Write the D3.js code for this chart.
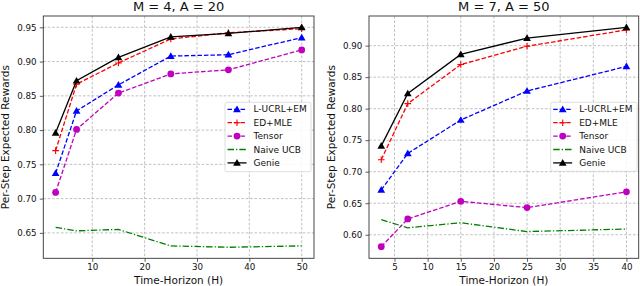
<!DOCTYPE html>
<html>
<head>
<meta charset="utf-8">
<script src="https://cdn.jsdelivr.net/npm/d3@7"></script>
<style>
  html, body { margin: 0; padding: 0; background: #fff; }
  svg { display: block; font-family: "DejaVu Sans", sans-serif; }
</style>
</head>
<body>
<svg id="chart" width="640" height="286"></svg>
<script>
// ---------------- data ----------------
const seriesNames = ["L-UCRL+EM", "ED+MLE", "Tensor", "Naive UCB", "Genie"];

// Left panel: M = 4, A = 20
const leftTitle = "M = 4, A = 20";
const leftX = [3, 7, 15, 25, 36, 50];
const leftLUCRL = [0.737, 0.828, 0.866, 0.908, 0.910, 0.935];
const leftEDMLE = [0.770, 0.867, 0.898, 0.933, 0.942, 0.948];
const leftTensor = [0.709, 0.801, 0.854, 0.882, 0.888, 0.917];
const leftNaive = [0.658, 0.653, 0.655, 0.631, 0.629, 0.631];
const leftGenie = [0.796, 0.872, 0.906, 0.936, 0.941, 0.950];
const leftXTicks = [10, 20, 30, 40, 50];
const leftYTicks = [0.65, 0.70, 0.75, 0.80, 0.85, 0.90, 0.95];

// Right panel: M = 7, A = 50
const rightTitle = "M = 7, A = 50";
const rightX = [3, 7, 15, 25, 40];
const rightLUCRL = [0.671, 0.729, 0.782, 0.828, 0.867];
const rightEDMLE = [0.719, 0.808, 0.870, 0.899, 0.925];
const rightTensor = [0.581, 0.625, 0.653, 0.643, 0.668];
const rightNaive = [0.624, 0.611, 0.619, 0.605, 0.609];
const rightGenie = [0.741, 0.824, 0.886, 0.912, 0.929];
const rightXTicks = [5, 10, 15, 20, 25, 30, 35, 40];
const rightYTicks = [0.60, 0.65, 0.70, 0.75, 0.80, 0.85, 0.90];

const xLabel = "Time-Horizon (H)";
const yLabel = "Per-Step Expected Rewards";

// ---------------- styles ----------------
const styles = [
  { color: "#0000ff", dash: "4.5,2", marker: "triangle" },
  { color: "#ff0000", dash: "4.5,2", marker: "plus" },
  { color: "#bf00bf", dash: "4.5,2", marker: "circle" },
  { color: "#008000", dash: "6.5,2,1.3,2", marker: null },
  { color: "#000000", dash: null, marker: "triangle" }
];

const svg = d3.select("#chart");

function drawMarker(g, type, color, x, y) {
  if (!type) return;
  if (type === "triangle") {
    g.append("path")
      .attr("d", d3.symbol().type(d3.symbolTriangle).size(26)())
      .attr("transform", `translate(${x},${y + 0.6})`)
      .attr("fill", color);
  } else if (type === "circle") {
    g.append("circle").attr("cx", x).attr("cy", y).attr("r", 3.4).attr("fill", color);
  } else if (type === "plus") {
    g.append("path")
      .attr("d", `M${x - 3.3},${y}H${x + 3.3}M${x},${y - 3.3}V${y + 3.3}`)
      .attr("stroke", color).attr("stroke-width", 1.1).attr("fill", "none");
  }
}

function panel(opts) {
  const { x0, x1, y0, y1, xDomain, yDomain, xs, series, xTicks, yTicks, title,
          yLabelX, legend } = opts;
  const x = d3.scaleLinear().domain(xDomain).range([x0, x1]);
  const y = d3.scaleLinear().domain(yDomain).range([y1, y0]);
  const g = svg.append("g");

  // grid
  const grid = g.append("g");
  xTicks.forEach(t => grid.append("line")
    .attr("x1", x(t)).attr("x2", x(t)).attr("y1", y0).attr("y2", y1)
    .attr("stroke", "#b0b0b0").attr("stroke-width", 0.8).attr("stroke-dasharray", "2.6,1.8"));
  yTicks.forEach(t => grid.append("line")
    .attr("x1", x0).attr("x2", x1).attr("y1", y(t)).attr("y2", y(t))
    .attr("stroke", "#b0b0b0").attr("stroke-width", 0.8).attr("stroke-dasharray", "2.6,1.8"));

  // axes
  const xAxis = d3.axisBottom(x).tickValues(xTicks).tickFormat(d3.format("d"))
    .tickSize(3.5).tickPadding(2.2).tickSizeOuter(0);
  const yAxis = d3.axisLeft(y).tickValues(yTicks).tickFormat(d3.format(".2f"))
    .tickSize(3.5).tickPadding(3.2).tickSizeOuter(0);
  const gx = g.append("g").attr("transform", `translate(0,${y1})`).call(xAxis);
  const gy = g.append("g").attr("transform", `translate(${x0},0)`).call(yAxis);
  [gx, gy].forEach(a => {
    a.select(".domain").remove();
    a.selectAll(".tick line").attr("stroke", "#333").attr("stroke-width", 0.8);
    a.selectAll(".tick text").attr("fill", "#111").style("font-size", "8.7px")
      .style("font-family", "DejaVu Sans, sans-serif");
  });

  // series
  const lineGen = d3.line().x((d, i) => x(xs[i])).y(d => y(d));
  series.forEach((vals, si) => {
    const st = styles[si];
    g.append("path").datum(vals).attr("d", lineGen)
      .attr("fill", "none").attr("stroke", st.color).attr("stroke-width", 1.3)
      .attr("stroke-dasharray", st.dash);
    vals.forEach((v, i) => drawMarker(g, st.marker, st.color, x(xs[i]), y(v)));
  });

  // frame
  g.append("rect").attr("x", x0).attr("y", y0).attr("width", x1 - x0).attr("height", y1 - y0)
    .attr("fill", "none").attr("stroke", "#333").attr("stroke-width", 0.9);

  // title
  g.append("text").attr("x", (x0 + x1) / 2).attr("y", 11).attr("text-anchor", "middle")
    .style("font-size", "13px").attr("fill", "#111").text(title);

  // axis labels
  g.append("text").attr("x", (x0 + x1) / 2).attr("y", 283.5).attr("text-anchor", "middle")
    .style("font-size", "10.5px").attr("fill", "#111").text(xLabel);
  g.append("text").attr("transform", `translate(${yLabelX},${(y0 + y1) / 2}) rotate(-90)`)
    .attr("text-anchor", "middle").style("font-size", "10.5px").attr("fill", "#111").text(yLabel);

  // legend
  const lg = g.append("g");
  lg.append("rect").attr("x", legend.x).attr("y", legend.y).attr("width", legend.w).attr("height", legend.h)
    .attr("rx", 2).attr("fill", "#fff").attr("fill-opacity", 0.85)
    .attr("stroke", "#d6d6d6").attr("stroke-width", 0.8);
  seriesNames.forEach((name, si) => {
    const st = styles[si];
    const cy = legend.y + 7 + si * 13.4;
    const lx0 = legend.x + 2.5, lx1 = legend.x + 21.5;
    lg.append("line").attr("x1", lx0).attr("x2", lx1).attr("y1", cy).attr("y2", cy)
      .attr("stroke", st.color).attr("stroke-width", 1.3).attr("stroke-dasharray", st.dash);
    drawMarker(lg, st.marker, st.color, (lx0 + lx1) / 2, cy);
    lg.append("text").attr("x", legend.x + 28.5).attr("y", cy).attr("dy", "0.35em")
      .style("font-size", "9px").attr("fill", "#111").text(name);
  });
}

panel({
  x0: 43.3, x1: 314, y0: 16, y1: 258.3,
  xDomain: [0.65, 52.35], yDomain: [0.6129, 0.9665],
  xs: leftX, series: [leftLUCRL, leftEDMLE, leftTensor, leftNaive, leftGenie],
  xTicks: leftXTicks, yTicks: leftYTicks, title: leftTitle, yLabelX: 9.3,
  legend: { x: 225, y: 102.3, w: 86, h: 69.4 }
});

panel({
  x0: 369, x1: 638.7, y0: 16, y1: 258.3,
  xDomain: [1.15, 41.85], yDomain: [0.5626, 0.947],
  xs: rightX, series: [rightLUCRL, rightEDMLE, rightTensor, rightNaive, rightGenie],
  xTicks: rightXTicks, yTicks: rightYTicks, title: rightTitle, yLabelX: 334.5,
  legend: { x: 550.7, y: 102.3, w: 86.4, h: 69 }
});
</script>
</body>
</html>
